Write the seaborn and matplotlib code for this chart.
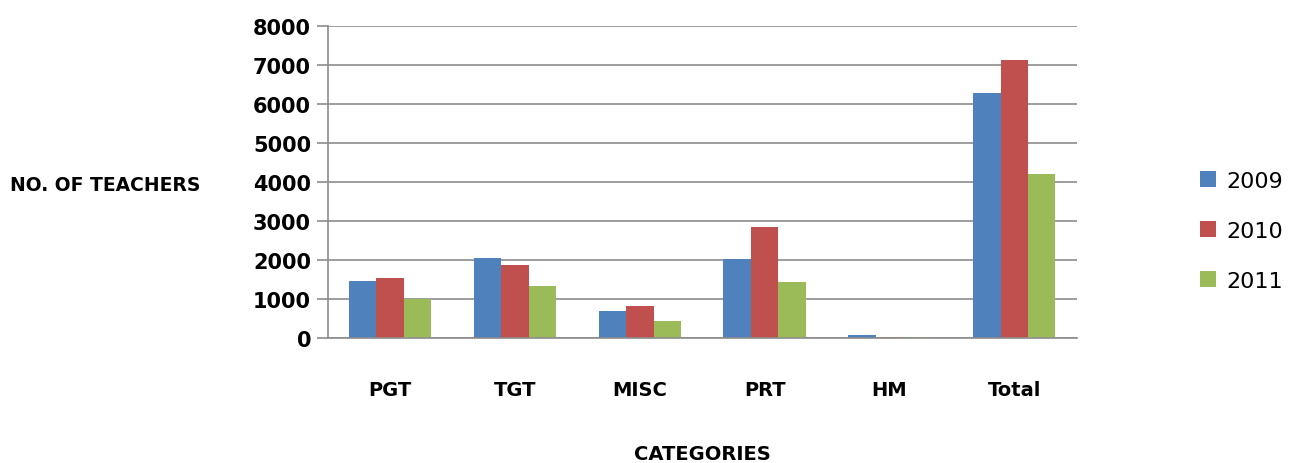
import matplotlib
matplotlib.use("Agg")
import matplotlib.pyplot as plt
import seaborn as sns
import pandas as pd
from matplotlib.patches import Patch

categories = ["PGT", "TGT", "MISC", "PRT", "HM", "Total"]
years = ["2009", "2010", "2011"]
v2009 = [1480, 2070, 710, 2030, 85, 6300]
v2010 = [1540, 1870, 830, 2850, 45, 7130]
v2011 = [1010, 1330, 445, 1450, 45, 4210]
yticks = [0, 1000, 2000, 3000, 4000, 5000, 6000, 7000, 8000]
colors = ["#4F81BD", "#C0504D", "#9BBB59"]

rows = []
for y, vals in zip(years, [v2009, v2010, v2011]):
    for c, v in zip(categories, vals):
        rows.append({"cat": c, "year": y, "val": v})
df = pd.DataFrame(rows)

sns.set_style("white")
plt.rcParams["font.family"] = ["DejaVu Sans"]
plt.rcParams["text.color"] = "black"
plt.rcParams["xtick.color"] = "black"
plt.rcParams["ytick.color"] = "black"

fig = plt.figure(figsize=(13.04, 4.64), dpi=100)
ax = fig.add_axes([0.2513, 0.2688, 0.8257 - 0.2513, 0.9412 - 0.2688])
sns.barplot(data=df, x="cat", y="val", hue="year", palette=colors,
            order=categories, hue_order=years, width=0.66, saturation=1,
            ax=ax, legend=False, edgecolor="none")
ax.set_ylim(0, 8000)
ax.set_yticks(yticks)
ax.set_yticklabels([str(t) for t in yticks], fontsize=15, fontweight="bold")
ax.set_xticklabels(categories, fontsize=14, fontweight="bold")
ax.set_xlabel("")
ax.set_ylabel("")
ax.yaxis.grid(True, color="#8c8c8c", linewidth=1.2)
ax.set_axisbelow(True)
for s in ["top", "right"]:
    ax.spines[s].set_visible(False)
ax.spines["left"].set_color("#8c8c8c")
ax.spines["bottom"].set_color("#8c8c8c")
ax.spines["left"].set_linewidth(1.2)
ax.spines["bottom"].set_linewidth(1.2)
ax.tick_params(axis="y", length=8, color="#8c8c8c", labelcolor="black",
               width=1.2, pad=4, left=True)
ax.tick_params(axis="x", length=0, pad=30, labelcolor="black")

fig.text(0.008, 0.601, "NO. OF TEACHERS", fontsize=13.5, fontweight="bold",
         ha="left", va="center", color="black")
fig.text(0.539, 1 - 455 / 464, "CATEGORIES", fontsize=14, fontweight="bold",
         ha="center", va="center", color="black")

handles = [Patch(facecolor=c, edgecolor="none") for c in colors]
leg = fig.legend(handles, years, loc="center left", bbox_to_anchor=(0.905, 0.50),
                 frameon=False, fontsize=16, handlelength=0.7, handleheight=0.7,
                 labelspacing=1.35, handletextpad=0.5)
for t in leg.get_texts():
    t.set_color("black")

fig.savefig("out.png", dpi=100)
